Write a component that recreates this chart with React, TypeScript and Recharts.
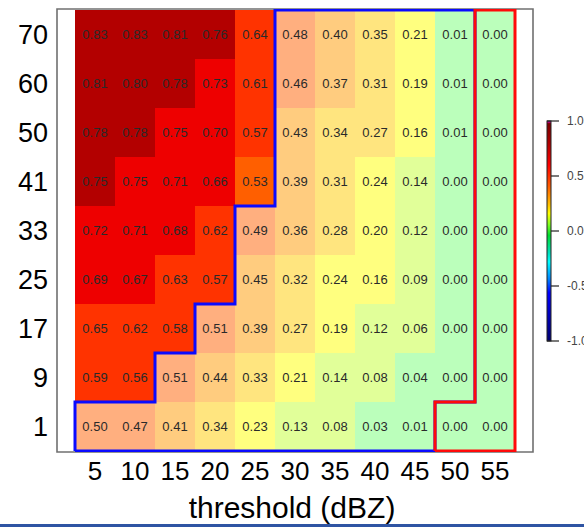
import React from 'react';
import { ScatterChart, Scatter, XAxis, YAxis, ReferenceArea, Label } from 'recharts';

const FONT = '"Liberation Sans", Arial, Helvetica, sans-serif';

// Columns: reflectivity threshold (dBZ)
const thresholds = [5, 10, 15, 20, 25, 30, 35, 40, 45, 50, 55];
// Rows, bottom to top
const rowLabels = ['1', '9', '17', '25', '33', '41', '50', '60', '70'];

// Score per row, one value per threshold
const row1 = [0.5, 0.47, 0.41, 0.34, 0.23, 0.13, 0.08, 0.03, 0.01, 0.0, 0.0];
const row9 = [0.59, 0.56, 0.51, 0.44, 0.33, 0.21, 0.14, 0.08, 0.04, 0.0, 0.0];
const row17 = [0.65, 0.62, 0.58, 0.51, 0.39, 0.27, 0.19, 0.12, 0.06, 0.0, 0.0];
const row25 = [0.69, 0.67, 0.63, 0.57, 0.45, 0.32, 0.24, 0.16, 0.09, 0.0, 0.0];
const row33 = [0.72, 0.71, 0.68, 0.62, 0.49, 0.36, 0.28, 0.2, 0.12, 0.0, 0.0];
const row41 = [0.753, 0.748, 0.71, 0.66, 0.53, 0.39, 0.31, 0.24, 0.14, 0.0, 0.0];
const row50 = [0.78, 0.78, 0.748, 0.7, 0.57, 0.43, 0.34, 0.27, 0.16, 0.01, 0.0];
const row60 = [0.81, 0.8, 0.78, 0.73, 0.61, 0.46, 0.37, 0.31, 0.19, 0.01, 0.0];
const row70 = [0.83, 0.83, 0.81, 0.76, 0.64, 0.48, 0.4, 0.35, 0.21, 0.01, 0.0];
const rows = [row1, row9, row17, row25, row33, row41, row50, row60, row70];

// Highlighted regions: first/last column index in each row (bottom to top)
const blueFrom = [0, 2, 3, 4, 4, 5, 5, 5, 5];
const blueTo = [8, 9, 9, 9, 9, 9, 9, 9, 9];
const redFrom = [9, 10, 10, 10, 10, 10, 10, 10, 10];
const redTo = [10, 10, 10, 10, 10, 10, 10, 10, 10];

// Colour classes
const breaks = [0.05, 0.15, 0.25, 0.355, 0.455, 0.55, 0.655, 0.75];
const palette = ['#77ff77', '#c4ff33', '#ffff00', '#ffcc00', '#ff9900', '#ff5f00', '#ff3300', '#ee0000', '#b30000'];

const colorFor = (v: number) => {
  let i = 0;
  while (i < breaks.length && v >= breaks[i]) i++;
  return palette[i];
};

const half = (thresholds[1] - thresholds[0]) / 2;

const cells = rows.flatMap((vals, r) =>
  vals.map((v, c) => ({
    x: thresholds[c],
    y: r,
    v,
    light: c >= blueFrom[r],
  }))
);

function outline(from: number[], to: number[]) {
  const left: { x: number; y: number }[] = [];
  const right: { x: number; y: number }[] = [];
  from.forEach((c, r) => {
    left.push({ x: thresholds[c] - half, y: r - 0.5 }, { x: thresholds[c] - half, y: r + 0.5 });
  });
  to.forEach((c, r) => {
    right.push({ x: thresholds[c] + half, y: r - 0.5 }, { x: thresholds[c] + half, y: r + 0.5 });
  });
  return [...left, ...right.reverse(), left[0]];
}

const blueOutline = outline(blueFrom, blueTo);
const redOutline = outline(redFrom, redTo);

const xDomain: [number, number] = [0.25, 59.75];
const yDomain: [number, number] = [-0.52, 8.52];

const CellText = (props: any) => {
  const { cx, cy, payload } = props;
  return (
    <text
      x={cx}
      y={cy}
      textAnchor="middle"
      dominantBaseline="central"
      fontSize={13}
      fontFamily={FONT}
      fill="#2a2a2a"
    >
      {payload.v.toFixed(2)}
    </text>
  );
};

const NoDot = () => <g />;

const colorbarTicks = [1.0, 0.5, 0.0, -0.5, -1.0];

const ColorBar = () => {
  const top = 11;
  const len = 220;
  const pos = (t: number) => top + ((1 - t) / 2) * len;
  return (
    <svg width={50} height={260} style={{ position: 'absolute', left: 540, top: 110 }}>
      <defs>
        <linearGradient id="jet" x1="0" y1="0" x2="0" y2="1">
          <stop offset="0" stopColor="#ff00ff" />
          <stop offset="0.012" stopColor="#7a0000" />
          <stop offset="0.1" stopColor="#b00000" />
          <stop offset="0.2" stopColor="#ff0000" />
          <stop offset="0.3" stopColor="#ff6000" />
          <stop offset="0.38" stopColor="#ffc000" />
          <stop offset="0.42" stopColor="#ffff00" />
          <stop offset="0.47" stopColor="#80ff20" />
          <stop offset="0.52" stopColor="#00dd30" />
          <stop offset="0.6" stopColor="#00e0c0" />
          <stop offset="0.64" stopColor="#00ffff" />
          <stop offset="0.72" stopColor="#0080ff" />
          <stop offset="0.78" stopColor="#0000ff" />
          <stop offset="0.9" stopColor="#0000b0" />
          <stop offset="1" stopColor="#000070" />
        </linearGradient>
      </defs>
      <rect x={7} y={top} width={4} height={len} fill="url(#jet)" stroke="#222" strokeWidth={1} />
      {colorbarTicks.map((t, i) => (
        <g key={t}>
          <line
            x1={i === 0 || i === colorbarTicks.length - 1 ? 7 : 11}
            x2={19}
            y1={pos(t)}
            y2={pos(t)}
            stroke="#222"
            strokeWidth={1.2}
          />
          <text x={27} y={pos(t)} dominantBaseline="central" fontSize={12} fontFamily={FONT} fill="#444">
            {t.toFixed(1)}
          </text>
        </g>
      ))}
    </svg>
  );
};

export default function App() {
  return (
    <div
      style={{
        position: 'absolute',
        left: 0,
        top: 0,
        width: 584,
        height: 527,
        background: '#ffffff',
        overflow: 'hidden',
        fontFamily: FONT,
      }}
    >
      <ScatterChart
        width={584}
        height={527}
        margin={{ top: 9, right: 51, bottom: 0, left: 8 }}
        style={{ position: 'absolute', left: 0, top: 0 }}
      >
        <XAxis
          type="number"
          dataKey="x"
          domain={xDomain}
          ticks={thresholds}
          interval={0}
          allowDataOverflow
          axisLine={false}
          tickLine={false}
          tickSize={0}
          tickMargin={10}
          height={75}
          tick={{ fontSize: 26, fill: '#000', fontFamily: FONT }}
        >
          <Label
            value="threshold (dBZ)"
            position="insideBottom"
            offset={9}
            dx={-3}
            style={{ fontSize: 30, fill: '#000', fontFamily: FONT }}
          />
        </XAxis>
        <YAxis
          type="number"
          dataKey="y"
          domain={yDomain}
          ticks={rowLabels.map((_, i) => i)}
          tickFormatter={(i: number) => rowLabels[i]}
          interval={0}
          allowDataOverflow
          axisLine={false}
          tickLine={false}
          tickSize={0}
          tickMargin={9}
          width={49}
          tick={{ fontSize: 27, fill: '#000', fontFamily: FONT }}
        />
        {cells.map((d) => (
          <ReferenceArea
            key={`${d.x}-${d.y}`}
            x1={d.x - half}
            x2={d.x + half}
            y1={d.y - 0.5}
            y2={d.y + 0.5}
            fill={colorFor(d.v)}
            fillOpacity={d.light ? 0.5 : 1}
            stroke="none"
            ifOverflow="visible"
          />
        ))}
        <ReferenceArea
          x1={xDomain[0]}
          x2={xDomain[1]}
          y1={yDomain[0]}
          y2={yDomain[1]}
          fill="none"
          stroke="#707070"
          strokeWidth={1.6}
          ifOverflow="visible"
        />
        <Scatter data={cells} shape={CellText} isAnimationActive={false} />
        <Scatter
          data={blueOutline}
          shape={NoDot}
          line={{ stroke: '#0a0aff', strokeWidth: 3, strokeLinejoin: 'miter' }}
          lineType="joint"
          fill="#0a0aff"
          isAnimationActive={false}
        />
        <Scatter
          data={redOutline}
          shape={NoDot}
          line={{ stroke: '#ff0a0a', strokeWidth: 3, strokeLinejoin: 'miter' }}
          lineType="joint"
          fill="#ff0a0a"
          isAnimationActive={false}
        />
      </ScatterChart>
      <ColorBar />
      <div style={{ position: 'absolute', left: 0, top: 524, width: 584, height: 3, background: '#2f54a3' }} />
    </div>
  );
}
